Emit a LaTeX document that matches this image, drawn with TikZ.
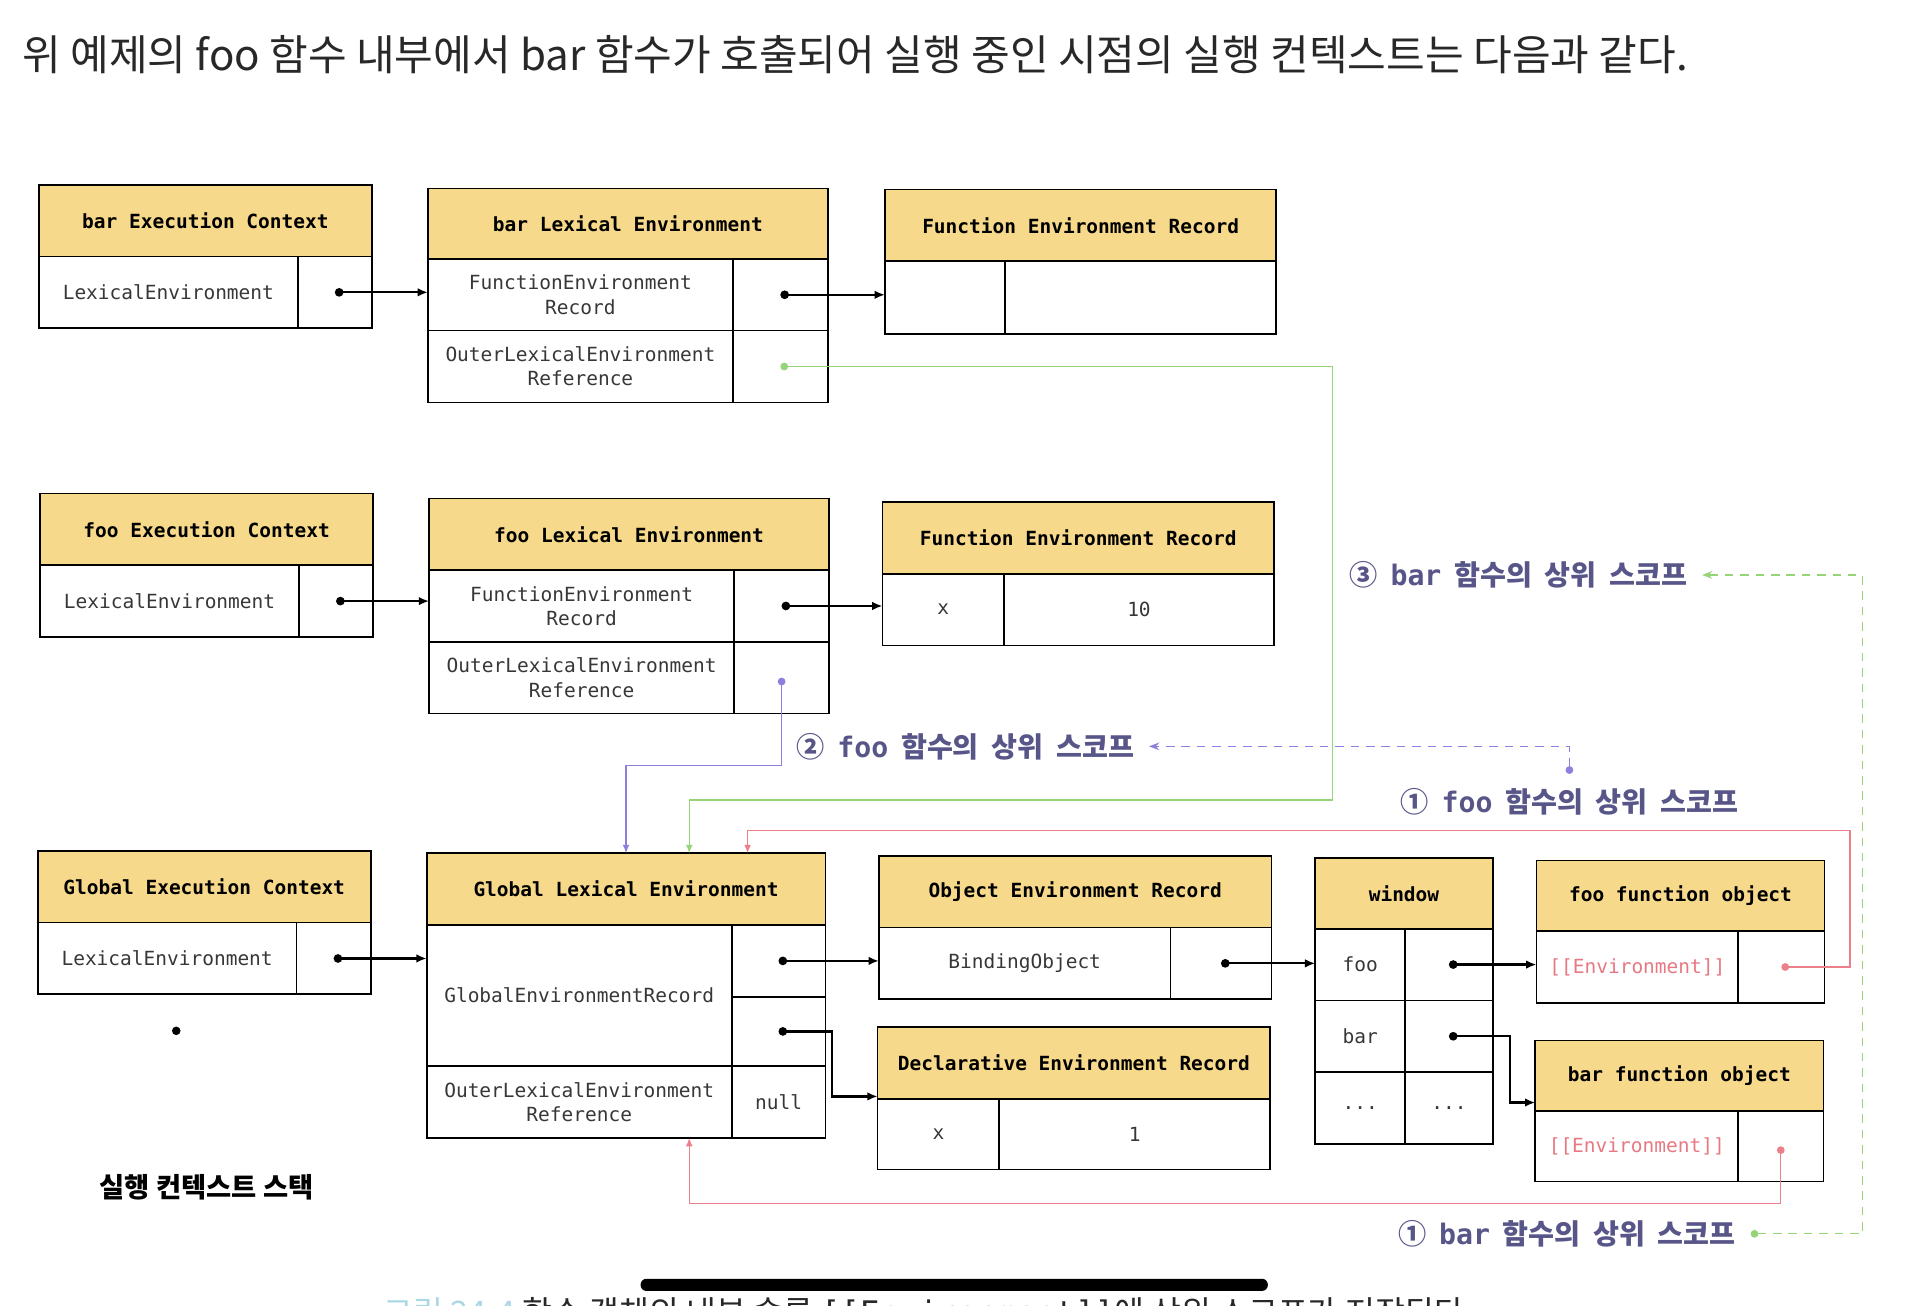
\documentclass[tikz,border=0pt]{standalone}
\usepackage{fontspec}
\setmonofont{DejaVu Sans Mono}
\newfontfamily\kr{Noto Sans CJK KR}
\usetikzlibrary{arrows.meta,positioning,calc}
\definecolor{hdrfill}{RGB}{246,217,138}
\definecolor{cellink}{RGB}{55,55,55}
\definecolor{grnline}{RGB}{150,212,120}
\definecolor{prpline}{RGB}{140,128,222}
\definecolor{redline}{RGB}{236,128,138}
\definecolor{lblink}{RGB}{88,86,136}
\definecolor{envink}{RGB}{232,120,130}
\definecolor{titleink}{RGB}{40,40,40}
\definecolor{capcyan}{RGB}{170,215,230}
\tikzset{
  hdr/.style 2 args={draw, line width=1pt, fill=hdrfill, minimum width=#1*0.025cm, minimum height=#2*0.025cm,
    inner sep=0pt, outer sep=0pt, anchor=north west, font=\fontsize{11.4}{14.2}\selectfont\ttfamily\bfseries},
  cell/.style 2 args={draw, line width=1pt, minimum width=#1*0.025cm, minimum height=#2*0.025cm,
    inner sep=0pt, outer sep=0pt, anchor=north west, align=center, text=cellink,
    font=\fontsize{11.4}{14.2}\selectfont\ttfamily}
}
\newcommand\gap{\hspace{0.45em}}
\begin{document}
\begin{tikzpicture}[x=0.025cm,y=-0.025cm,
    ptr/.style={line width=1.3pt, {Circle[length=5pt]}-{Latex[length=6pt,width=5pt]}},
    col/.style={line width=0.8pt, {Circle[length=4.5pt]}-{Latex[length=5pt,width=4pt]}},
    dsh/.style={line width=0.8pt, dash pattern=on 5pt off 4pt, {Circle[length=4.5pt]}-{Stealth[length=6pt,width=4.5pt]}},
    lbl/.style={anchor=west, inner sep=0.3cm, text=lblink, font=\kr\bfseries\fontsize{16.5}{19}\selectfont}]
\useasboundingbox (0,0) rectangle (1568,1074);

% title
\node[anchor=west, inner sep=0pt, text=titleink, font=\kr\fontsize{24.6}{28}\selectfont] (title) at (18,45)
  {위 예제의 foo 함수 내부에서 bar 함수가 호출되어 실행 중인 시점의 실행 컨텍스트는 다음과 같다.};

% bar
\node[hdr={274}{59}] (barEC) at (32,152) {bar Execution Context};
\node[cell={213}{59}] (barEC-l) at (barEC.south west) {LexicalEnvironment};
\node[cell={61}{59}] (barEC-r) at (barEC-l.north east) {};
\node[hdr={329}{58}] (barLE) at (352,155) {bar Lexical Environment};
\node[cell={251}{59}] (barLE-l1) at (barLE.south west) {FunctionEnvironment\\Record};
\node[cell={78}{59}] (barLE-r1) at (barLE-l1.north east) {};
\node[cell={251}{59}] (barLE-l2) at (barLE-l1.south west) {OuterLexicalEnvironment\\Reference};
\node[cell={78}{59}] (barLE-r2) at (barLE-l2.north east) {};
\node[hdr={322}{59}] (barFER) at (728,156) {Function Environment Record};
\node[cell={99}{60}] (barFER-l) at (barFER.south west) {};
\node[cell={223}{60}] (barFER-r) at (barFER-l.north east) {};

% foo
\node[hdr={274}{59}] (fooEC) at (33,406) {foo Execution Context};
\node[cell={213}{59}] (fooEC-l) at (fooEC.south west) {LexicalEnvironment};
\node[cell={61}{59}] (fooEC-r) at (fooEC-l.north east) {};
\node[hdr={329}{59}] (fooLE) at (353,410) {foo Lexical Environment};
\node[cell={251}{59}] (fooLE-l1) at (fooLE.south west) {FunctionEnvironment\\Record};
\node[cell={78}{59}] (fooLE-r1) at (fooLE-l1.north east) {};
\node[cell={251}{59}] (fooLE-l2) at (fooLE-l1.south west) {OuterLexicalEnvironment\\Reference};
\node[cell={78}{59}] (fooLE-r2) at (fooLE-l2.north east) {};
\node[hdr={322}{59}] (fooFER) at (726,413) {Function Environment Record};
\node[cell={100}{59}] (fooFER-l) at (fooFER.south west) {x};
\node[cell={222}{59}] (fooFER-r) at (fooFER-l.north east) {10};

% global
\node[hdr={274}{59}] (gEC) at (31,700) {Global Execution Context};
\node[cell={213}{59}] (gEC-l) at (gEC.south west) {LexicalEnvironment};
\node[cell={61}{59}] (gEC-r) at (gEC-l.north east) {};
\node[hdr={328}{59}] (gLE) at (351,702) {Global Lexical Environment};
\node[cell={251}{116}] (gLE-l1) at (gLE.south west) {GlobalEnvironmentRecord};
\node[cell={77}{59}] (gLE-r1) at (gLE-l1.north east) {};
\node[cell={77}{57}] (gLE-r2) at (gLE-r1.south west) {};
\node[cell={251}{59}] (gLE-l3) at (gLE-l1.south west) {OuterLexicalEnvironment\\Reference};
\node[cell={77}{59}] (gLE-r3) at (gLE-l3.north east) {null};
\node[hdr={323}{59}] (objER) at (723,704) {Object Environment Record};
\node[cell={240}{59}] (objER-l) at (objER.south west) {BindingObject};
\node[cell={83}{59}] (objER-r) at (objER-l.north east) {};
\node[hdr={323}{59}] (declER) at (722,845) {Declarative Environment Record};
\node[cell={100}{58}] (declER-l) at (declER.south west) {x};
\node[cell={223}{58}] (declER-r) at (declER-l.north east) {1};

% window and function objects
\node[hdr={146}{58}] (window) at (1082,706) {window};
\node[cell={74}{59}] (window-l1) at (window.south west) {foo};
\node[cell={72}{59}] (window-r1) at (window-l1.north east) {};
\node[cell={74}{59}] (window-l2) at (window-l1.south west) {bar};
\node[cell={72}{59}] (window-r2) at (window-l2.north east) {};
\node[cell={74}{59}] (window-l3) at (window-l2.south west) {...};
\node[cell={72}{59}] (window-r3) at (window-l3.north east) {...};
\node[hdr={237}{58}] (fooFO) at (1264,708) {foo function object};
\node[cell={166}{59}, text=envink] (fooFO-l) at (fooFO.south west) {[[Environment]]};
\node[cell={71}{59}] (fooFO-r) at (fooFO-l.north east) {};
\node[hdr={237}{58}] (barFO) at (1263,856) {bar function object};
\node[cell={167}{58}, text=envink] (barFO-l) at (barFO.south west) {[[Environment]]};
\node[cell={70}{58}] (barFO-r) at (barFO-l.north east) {};

\fill (145,848) circle[radius=2.5pt];
\node[font=\kr\bfseries\fontsize{16}{19}\selectfont] (stackLbl) at (170,977) {실행 컨텍스트 스택};

% pointers
\draw[ptr] (barEC-r.center) -- (barEC-r.center -| barLE.west);
\draw[ptr] (barLE-r1.center) -- (barLE-r1.center -| barFER.west);
\draw[ptr] (fooEC-r.center) -- (fooEC-r.center -| fooLE.west);
\draw[ptr] (fooLE-r1.center) -- (fooLE-r1.center -| fooFER.west);
\draw[ptr] (gEC-r.center) -- (gEC-r.center -| gLE.west);
\draw[ptr] (gLE-r1.center) -- (gLE-r1.center -| objER.west);
\draw[ptr] (gLE-r2.center) -- ++(44,0) |- ([yshift=0.05cm]declER.south west);
\draw[ptr] (objER-r.center) -- (objER-r.center -| window.west);
\draw[ptr] (window-r1.center) -- (window-r1.center -| fooFO.west);
\draw[ptr] (window-r2.center) -- ++(50,0) |- ([yshift=0.175cm]barFO.south west);

% outer references
\coordinate (gInG) at ([xshift=1.3cm]gLE.north);
\coordinate (gInR) at ([xshift=2.5cm]gLE.north);
\coordinate (gInB) at (gInG |- gLE-l3.south);
\coordinate (grnA) at (1096,658);
\coordinate (prpA) at (600,630);
\coordinate (redA) at (1522,683);
\coordinate (redB) at (1000,990);
\draw[col, grnline] (barLE-r2.center) -| (grnA) -| (gInG);
\draw[col, prpline] (fooLE-r2.center) |- (prpA) -| (gLE.north);
\draw[col, redline] (fooFO-r.center) -| (redA) -| (gInR);
\draw[col, redline] (barFO-r.center) |- (redB) -| (gInB);

% scope labels
\node[lbl] (lblBar3) at (1098,473) {③\gap{\ttfamily bar}\gap 함수의\gap 상위\gap 스코프};
\node[lbl] (lblFoo2) at (643,614) {②\gap{\ttfamily foo}\gap 함수의\gap 상위\gap 스코프};
\node[lbl] (lblFoo1) at (1140,660) {①\gap{\ttfamily foo}\gap 함수의\gap 상위\gap 스코프};
\node[lbl] (lblBar1) at (1138,1015) {①\gap{\ttfamily bar}\gap 함수의\gap 상위\gap 스코프};
\coordinate (grnC) at (1532,473);
\draw[dsh, grnline] (lblBar1.east) -| (grnC) -- (lblBar3.east);
\draw[dsh, prpline] (lblFoo1.north) |- (lblFoo2.east);

% cut-off caption and bar at the bottom
\node[anchor=base west, inner sep=0pt, text=titleink, font=\kr\fontsize{19}{22}\selectfont] (caption) at (315,1090)
  {\textcolor{capcyan}{그림 24-4} 함수 객체의 내부 슬롯 {\ttfamily [[Environment]]}에 상위 스코프가 저장된다};
\fill[black, rounded corners=0.12cm] (527,1052) rectangle (1043,1062);
\end{tikzpicture}
\end{document}
